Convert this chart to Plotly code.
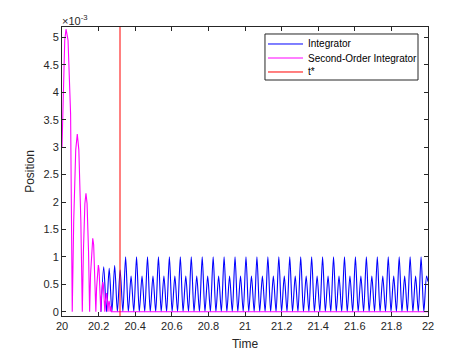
import plotly.graph_objects as go

# ---------------- data (position values in units of 1e-3) ----------------
# Second-Order Integrator (bouncing arcs, Zeno behaviour)
so2_t = [20.000, 20.008, 20.015, 20.022, 20.033, 20.047, 20.056,
         20.064, 20.075, 20.0835, 20.092, 20.103, 20.111,
         20.117, 20.125, 20.131, 20.137, 20.145, 20.151,
         20.156, 20.163, 20.168, 20.173, 20.180, 20.185,
         20.189, 20.1945, 20.1985, 20.2025, 20.208, 20.212,
         20.215, 20.220, 20.223, 20.226, 20.231, 20.234,
         20.2365, 20.240, 20.2425, 20.245, 20.2485, 20.251,
         20.254, 20.257, 20.260, 20.263,
         20.267, 20.271,
         22.000]
so2_y = [3.00, 4.30, 4.95, 5.15, 4.95, 3.60, 0.0,
         1.65, 2.95, 3.24, 2.95, 1.65, 0.0,
         1.10, 1.97, 2.16, 1.97, 1.10, 0.0,
         0.68, 1.22, 1.34, 1.22, 0.68, 0.0,
         0.43, 0.77, 0.85, 0.77, 0.43, 0.0,
         0.28, 0.49, 0.54, 0.49, 0.28, 0.0,
         0.17, 0.31, 0.34, 0.31, 0.17, 0.0,
         0.15, 0.20, 0.15, 0.0,
         0.10, 0.0,
         0.0]

# Integrator (chattering): trough times, peak times and peak heights
blue_trough_t = [20.2130, 20.2429, 20.2728, 20.3027, 20.3326, 20.3625, 20.3924, 20.4223,
                 20.4522, 20.4821, 20.5120, 20.5419, 20.5718, 20.6017, 20.6316, 20.6615,
                 20.6914, 20.7213, 20.7512, 20.7811, 20.8110, 20.8409, 20.8708, 20.9007,
                 20.9306, 20.9605, 20.9904, 21.0203, 21.0502, 21.0801, 21.1100, 21.1399,
                 21.1698, 21.1997, 21.2296, 21.2595, 21.2894, 21.3193, 21.3492, 21.3791,
                 21.4090, 21.4389, 21.4688, 21.4987, 21.5286, 21.5585, 21.5884, 21.6183,
                 21.6482, 21.6781, 21.7080, 21.7379, 21.7678, 21.7977, 21.8276, 21.8575,
                 21.8874, 21.9173, 21.9472, 21.9771]
blue_peak_t = [20.2280, 20.2579, 20.2878, 20.3177, 20.3476, 20.3775, 20.4074, 20.4373,
               20.4672, 20.4971, 20.5270, 20.5569, 20.5868, 20.6167, 20.6466, 20.6765,
               20.7064, 20.7363, 20.7662, 20.7961, 20.8260, 20.8559, 20.8858, 20.9157,
               20.9456, 20.9755, 21.0054, 21.0353, 21.0652, 21.0951, 21.1250, 21.1549,
               21.1848, 21.2147, 21.2446, 21.2745, 21.3044, 21.3343, 21.3642, 21.3941,
               21.4240, 21.4539, 21.4838, 21.5137, 21.5436, 21.5735, 21.6034, 21.6333,
               21.6632, 21.6931, 21.7230, 21.7529, 21.7828, 21.8127, 21.8426, 21.8725,
               21.9024, 21.9323, 21.9622, 21.9921]
blue_peak_y = [0.82, 0.79, 0.84, 0.76, 1.00, 0.65, 1.00, 0.65,
               1.00, 0.65, 1.00, 0.65, 1.00, 0.65, 1.00, 0.65,
               1.00, 0.65, 1.00, 0.65, 1.00, 0.65, 1.00, 0.65,
               1.00, 0.65, 1.00, 0.65, 1.00, 0.65, 1.00, 0.65,
               1.00, 0.65, 1.00, 0.65, 1.00, 0.65, 1.00, 0.65,
               1.00, 0.65, 1.00, 0.65, 1.00, 0.65, 1.00, 0.65,
               1.00, 0.65, 1.00, 0.65, 1.00, 0.65, 1.00, 0.65,
               1.00, 0.65, 1.00, 0.65]
blue_end_t = 22.000
blue_end_y = 0.55

t_star = 20.317

x_range = [20, 22]
y_range = [-0.078, 5.19]
x_ticks = [20, 20.2, 20.4, 20.6, 20.8, 21, 21.2, 21.4, 21.6, 21.8, 22]
x_tick_text = ["20", "20.2", "20.4", "20.6", "20.8", "21", "21.2", "21.4", "21.6", "21.8", "22"]
y_ticks = [0, 0.5, 1, 1.5, 2, 2.5, 3, 3.5, 4, 4.5, 5]
y_tick_text = ["0", "0.5", "1", "1.5", "2", "2.5", "3", "3.5", "4", "4.5", "5"]

series_names = ["Integrator", "Second-Order Integrator", "t*"]
series_colors = ["#0000ff", "#ff00ff", "#ff0000"]

# ---------------- build ----------------
blue_t, blue_y = [], []
for tt, tp, yp in zip(blue_trough_t, blue_peak_t, blue_peak_y):
    blue_t += [tt, tp]
    blue_y += [0.0, yp]
blue_t.append(blue_end_t)
blue_y.append(blue_end_y)

FONT = "Arial, 'Liberation Sans', Helvetica, sans-serif"
AX = "#262626"

fig = go.Figure()
fig.add_trace(go.Scatter(x=blue_t, y=blue_y, mode="lines", name=series_names[0],
                         line=dict(color=series_colors[0], width=1.1, shape="spline", smoothing=0.8)))
fig.add_trace(go.Scatter(x=so2_t, y=so2_y, mode="lines", name=series_names[1],
                         line=dict(color=series_colors[1], width=1.1)))
fig.add_trace(go.Scatter(x=[t_star, t_star], y=y_range, mode="lines", name=series_names[2],
                         line=dict(color=series_colors[2], width=1)))

axis_common = dict(showgrid=False, zeroline=False, showline=True, linecolor=AX, linewidth=1,
                   mirror="ticks", ticks="inside", ticklen=4, tickcolor=AX, tickwidth=1,
                   automargin=False,
                   tickfont=dict(family=FONT, size=11, color=AX))

fig.update_xaxes(range=x_range, tickvals=x_ticks, ticktext=x_tick_text,
                 title=dict(text="Time", font=dict(family=FONT, size=12, color=AX), standoff=8),
                 **axis_common)
fig.update_yaxes(range=y_range, tickvals=y_ticks, ticktext=y_tick_text,
                 title=dict(text="Position", font=dict(family=FONT, size=12, color=AX), standoff=6),
                 **axis_common)

# exponent label
fig.add_annotation(x=0, y=1, xref="paper", yref="paper", xanchor="left", yanchor="bottom",
                   text="\u00d710<sup>-3</sup>", showarrow=False, yshift=-2, xshift=-2,
                   font=dict(family=FONT, size=11, color=AX))

# legend box (MATLAB style)
lx0, lx1, ly0, ly1 = 0.5546, 0.9727, 0.8166, 0.9758
fig.add_shape(type="rect", xref="paper", yref="paper", x0=lx0, x1=lx1, y0=ly0, y1=ly1,
              line=dict(color=AX, width=1), fillcolor="white", layer="above")
row_y = [0.9412, 0.8927, 0.8443]
for name, col, ry in zip(series_names, series_colors, row_y):
    fig.add_shape(type="line", xref="paper", yref="paper", x0=0.5628, x1=0.6585, y0=ry, y1=ry,
                  line=dict(color=col, width=1), layer="above")
    fig.add_annotation(x=0.6667, y=ry, xref="paper", yref="paper", xanchor="left", yanchor="middle",
                       text=name, showarrow=False, font=dict(family=FONT, size=10, color="#000000"))

# page body adds an 8 px offset, so the figure is 8 px smaller and margins compensate
fig.update_layout(width=466, height=347, margin=dict(l=54, r=46, t=19, b=39),
                  paper_bgcolor="white", plot_bgcolor="white", showlegend=False,
                  font=dict(family=FONT, color=AX))

fig.write_html("out.html")
